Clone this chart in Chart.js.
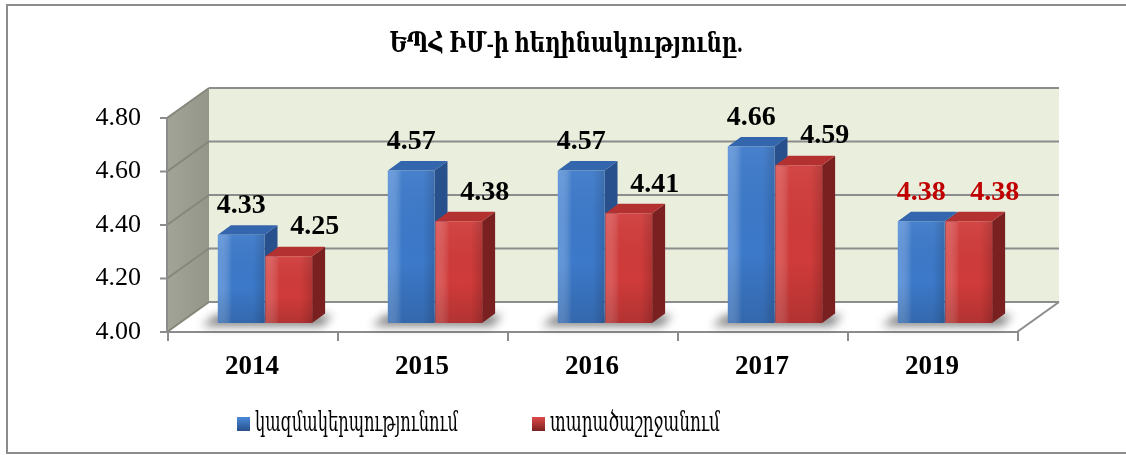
<!DOCTYPE html>
<html>
<head>
<meta charset="utf-8">
<script src="https://cdn.jsdelivr.net/npm/chart.js@4"></script>
<style>
    html, body { margin: 0; padding: 0; background: #fff; }
    #wrap { width: 1126px; height: 455px; position: relative; }
</style>
</head>
<body>
<div id="wrap"><canvas id="ratingChart"></canvas></div>
<script>
// Chart data
const titleText = 'ԵՊՀ ԻՄ-ի հեղինակությունը.';
const categories = ['2014', '2015', '2016', '2017', '2019'];
const orgValues = [4.33, 4.57, 4.57, 4.66, 4.38];
const regionValues = [4.25, 4.38, 4.41, 4.59, 4.38];
const seriesNames = ['կազմակերպությունում', 'տարածաշրջանում'];
const yTickLabels = ['4.00', '4.20', '4.40', '4.60', '4.80'];
const highlightCategory = '2019';

const SERIF = '"Liberation Serif", "DejaVu Serif", serif';

// 3D offsets relative to the bar plane (chart area)
const FX = -13, FY = 9;     // to the front edge of the floor
const BX = 29, BY = -21;    // to the back wall
const DX = 13, DY = -9.5;   // bar depth

const palette = [
    { front: '#3c79c9', top: '#3466ad', side: '#28508c', light: 'rgba(120,170,235,0.55)', mark: '#4a8ad9' },
    { front: '#cf3b3a', top: '#b33130', side: '#7b2020', light: 'rgba(240,120,115,0.45)', mark: '#de4a48' }
];

function poly(ctx, pts) {
    ctx.beginPath();
    ctx.moveTo(pts[0][0], pts[0][1]);
    for (let i = 1; i < pts.length; i++) ctx.lineTo(pts[i][0], pts[i][1]);
    ctx.closePath();
}

// draw text squeezed to a given width (Armenian fallback font is wide)
function fitText(ctx, text, x, y, width, align) {
    const w = ctx.measureText(text).width;
    const s = width / w;
    ctx.save();
    ctx.translate(x, y);
    ctx.scale(s, 1);
    ctx.textAlign = align;
    ctx.fillText(text, 0, 0);
    ctx.restore();
}

const depth3d = {
    id: 'depth3d',
    beforeDatasetsDraw(chart) {
        const { ctx, chartArea: a } = chart;
        const yScale = chart.scales.y;
        ctx.save();

        // back wall
        ctx.fillStyle = '#e9efdc';
        ctx.fillRect(a.left + BX, a.top + BY, a.right - a.left, a.bottom - a.top);

        // side wall
        const sideGrad = ctx.createLinearGradient(a.left + FX, 0, a.left + BX, 0);
        sideGrad.addColorStop(0, '#a3a498');
        sideGrad.addColorStop(1, '#94968a');
        ctx.fillStyle = sideGrad;
        poly(ctx, [
            [a.left + FX, a.top + FY], [a.left + BX, a.top + BY],
            [a.left + BX, a.bottom + BY], [a.left + FX, a.bottom + FY]
        ]);
        ctx.fill();

        // floor
        ctx.fillStyle = '#ffffff';
        poly(ctx, [
            [a.left + FX, a.bottom + FY], [a.right + FX, a.bottom + FY],
            [a.right + BX, a.bottom + BY], [a.left + BX, a.bottom + BY]
        ]);
        ctx.fill();

        // gridlines on back and side wall
        ctx.lineWidth = 2;
        yTickLabels.forEach(t => {
            const py = yScale.getPixelForValue(parseFloat(t));
            ctx.strokeStyle = '#8c8c8c';
            ctx.beginPath();
            ctx.moveTo(a.left + BX, py + BY);
            ctx.lineTo(a.right + BX, py + BY);
            ctx.stroke();
            ctx.strokeStyle = '#85877b';
            ctx.beginPath();
            ctx.moveTo(a.left + FX, py + FY);
            ctx.lineTo(a.left + BX, py + BY);
            ctx.stroke();
        });

        // floor edges
        ctx.strokeStyle = '#8c8c8c';
        ctx.beginPath();
        ctx.moveTo(a.left + FX, a.bottom + FY);
        ctx.lineTo(a.right + FX, a.bottom + FY);
        ctx.lineTo(a.right + BX, a.bottom + BY);
        ctx.stroke();

        // front axis line and ticks
        ctx.beginPath();
        ctx.moveTo(a.left + FX, a.top + FY);
        ctx.lineTo(a.left + FX, a.bottom + FY);
        yTickLabels.forEach(t => {
            const py = yScale.getPixelForValue(parseFloat(t)) + FY;
            ctx.moveTo(a.left + FX - 7, py);
            ctx.lineTo(a.left + FX, py);
        });
        const step = (a.right - a.left) / categories.length;
        for (let k = 0; k <= categories.length; k++) {
            const px = a.left + FX + k * step;
            ctx.moveTo(px + 1, a.bottom + FY);
            ctx.lineTo(px + 1, a.bottom + FY + 9);
        }
        ctx.stroke();

        // soft shadows on the floor
        ctx.save();
        ctx.filter = 'blur(5px)';
        ctx.fillStyle = 'rgba(0, 0, 0, 0.5)';
        const m0 = chart.getDatasetMeta(0).data;
        const m1 = chart.getDatasetMeta(1).data;
        m0.forEach((bar, j) => {
            const x0 = bar.x - bar.width / 2 - 16;
            const x1 = m1[j].x + m1[j].width / 2 + 10;
            const b = bar.base;
            poly(ctx, [[x0, b + 3], [x1, b + 3], [x1 + 10, b - 8], [x0 + 14, b - 8]]);
            ctx.fill();
        });
        ctx.restore();

        // side and top faces of the bars
        chart.data.datasets.forEach((ds, i) => {
            const c = palette[i];
            chart.getDatasetMeta(i).data.forEach(bar => {
                const x0 = bar.x - bar.width / 2, x1 = bar.x + bar.width / 2;
                const top = bar.y, base = bar.base;
                ctx.fillStyle = c.side;
                poly(ctx, [[x1, top], [x1 + DX, top + DY], [x1 + DX, base + DY], [x1, base]]);
                ctx.fill();
                ctx.fillStyle = c.top;
                poly(ctx, [[x0, top], [x1, top], [x1 + DX, top + DY], [x0 + DX, top + DY]]);
                ctx.fill();
            });
        });
        ctx.restore();
    },
    afterDatasetsDraw(chart) {
        const { ctx } = chart;
        ctx.save();
        chart.data.datasets.forEach((ds, i) => {
            const c = palette[i];
            chart.getDatasetMeta(i).data.forEach((bar, j) => {
                const x0 = bar.x - bar.width / 2, x1 = bar.x + bar.width / 2;
                const h = bar.base - bar.y;
                // shading on the front face
                const g = ctx.createLinearGradient(x0, 0, x1, 0);
                g.addColorStop(0, c.light);
                g.addColorStop(0.3, 'rgba(255,255,255,0)');
                g.addColorStop(0.75, 'rgba(0,0,0,0)');
                g.addColorStop(1, 'rgba(0,0,0,0.15)');
                ctx.fillStyle = g;
                ctx.fillRect(x0, bar.y, x1 - x0, h);
                const v = ctx.createLinearGradient(0, bar.y, 0, bar.base);
                v.addColorStop(0, 'rgba(255,255,255,0.06)');
                v.addColorStop(0.6, 'rgba(0,0,0,0)');
                v.addColorStop(1, 'rgba(0,0,0,0.14)');
                ctx.fillStyle = v;
                ctx.fillRect(x0, bar.y, x1 - x0, h);

                // value label
                const val = ds.data[j];
                ctx.font = 'bold 28px ' + SERIF;
                ctx.textAlign = 'center';
                ctx.textBaseline = 'middle';
                ctx.fillStyle = categories[j] === highlightCategory ? '#c00000' : '#000';
                ctx.fillText(val.toFixed(2), bar.x + (i === 1 ? 26 : 0), bar.y - 29);
            });
        });
        ctx.restore();
    },
    afterDraw(chart) {
        const { ctx, chartArea: a } = chart;
        const yScale = chart.scales.y;
        const xScale = chart.scales.x;
        ctx.save();

        // y tick labels
        ctx.fillStyle = '#000';
        ctx.font = '26px ' + SERIF;
        ctx.textAlign = 'right';
        ctx.textBaseline = 'middle';
        yTickLabels.forEach(t => {
            ctx.fillText(t, a.left + FX - 26, yScale.getPixelForValue(parseFloat(t)) + FY);
        });

        // category labels
        ctx.font = 'bold 27px ' + SERIF;
        ctx.textAlign = 'center';
        categories.forEach((cat, j) => {
            ctx.fillText(cat, xScale.getPixelForValue(j) + FX, a.bottom + FY + 35);
        });

        // title
        ctx.font = 'bold 27px ' + SERIF;
        fitText(ctx, titleText, 566, 45, 353, 'center');

        // legend
        const legendX = [237, 532];
        const legendW = [203, 170];
        ctx.font = '28px ' + SERIF;
        seriesNames.forEach((name, i) => {
            const c = palette[i];
            const lx = legendX[i], ly = 424;
            const g = ctx.createLinearGradient(0, ly - 7, 0, ly + 7);
            g.addColorStop(0, c.mark);
            g.addColorStop(1, c.side);
            ctx.fillStyle = g;
            ctx.fillRect(lx, ly - 7, 13, 14);
            ctx.fillStyle = '#000';
            fitText(ctx, name, lx + 18, ly, legendW[i], 'left');
        });

        // outer border
        ctx.strokeStyle = '#8c8c8c';
        ctx.lineWidth = 2;
        ctx.strokeRect(7, 5, 1130, 448);
        ctx.restore();
    }
};

new Chart(document.getElementById('ratingChart'), {
    type: 'bar',
    data: {
        labels: categories,
        datasets: [
            { label: seriesNames[0], data: orgValues, backgroundColor: palette[0].front, base: 4 },
            { label: seriesNames[1], data: regionValues, backgroundColor: palette[1].front, base: 4 }
        ]
    },
    options: {
        responsive: true,
        maintainAspectRatio: false,
        animation: false,
        layout: { padding: { left: 180, right: 96, top: 109, bottom: 132 } },
        datasets: { bar: { categoryPercentage: 0.56, barPercentage: 0.98 } },
        plugins: { legend: { display: false }, tooltip: { enabled: false } },
        scales: {
            x: { display: false },
            y: { display: false, min: 4, max: 4.8 }
        }
    },
    plugins: [depth3d]
});
</script>
</body>
</html>
